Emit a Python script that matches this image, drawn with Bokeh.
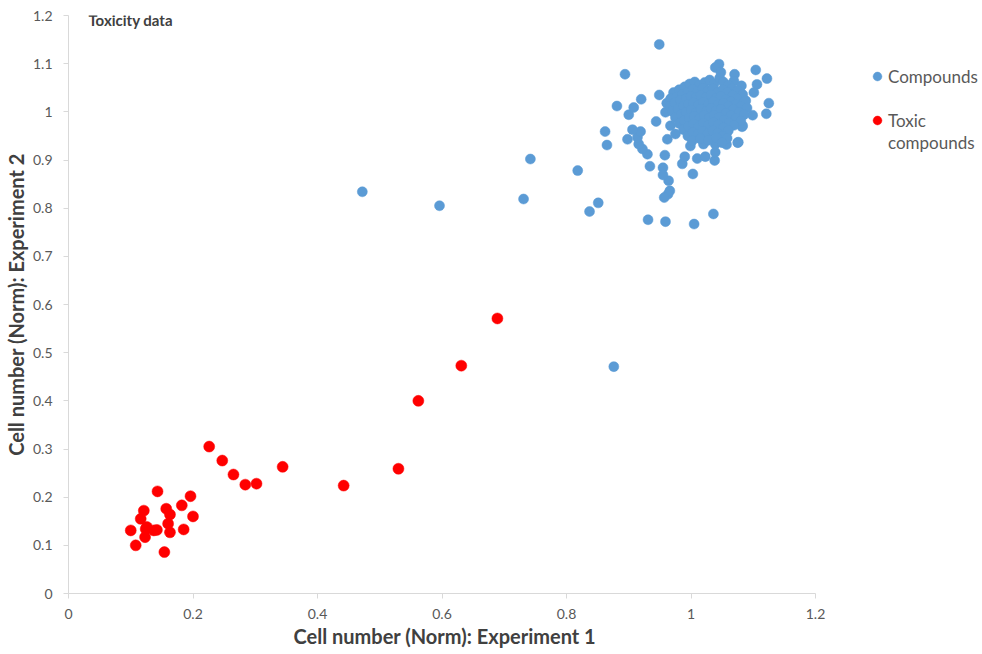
from bokeh.plotting import figure
from bokeh.models import FixedTicker, Legend, LegendItem, Label, Title, ColumnDataSource
from bokeh.embed import file_html
from bokeh.resources import INLINE

# ---- data ----
comp_x = [0.472, 0.596, 0.742, 0.731, 0.818, 0.851, 0.837, 0.876, 0.949, 0.894,
          1.104, 1.122, 1.125, 1.121, 1.099, 1.082, 1.076, 1.057, 1.038, 1.036,
          1.005, 0.959, 0.931, 0.963, 0.966, 0.957, 0.964, 0.955, 0.955, 0.934,
          0.958, 1.003, 0.986, 0.990, 1.010, 1.023, 1.039, 0.930, 0.922, 0.916,
          0.914, 0.919, 0.906, 0.898, 0.862, 0.865, 0.881, 0.900, 0.908, 0.920,
          0.944, 0.949, 0.962, 0.975, 0.961, 0.967, 0.959, 1.045, 1.039, 1.070,
          1.069, 1.081, 1.106, 1.101, 1.088, 1.077, 0.999, 1.020, 1.039, 1.075,
          1.083, 0.967,
          0.972, 0.981, 0.990, 0.998, 1.006, 1.013, 1.022, 1.030, 1.037, 1.046,
          1.048, 1.052, 1.060, 1.066, 1.075, 1.083,
          0.968, 0.977, 0.986, 0.995, 1.003, 1.011, 1.019, 1.027, 1.035, 1.043,
          1.051, 1.058, 1.067, 1.074, 1.086,
          0.966, 0.974, 0.983, 0.992, 1.000, 1.008, 1.016, 1.024, 1.032, 1.040,
          1.048, 1.056, 1.064, 1.072, 1.080, 1.090,
          0.970, 0.979, 0.988, 0.996, 1.004, 1.012, 1.020, 1.028, 1.036, 1.044,
          1.052, 1.060, 1.068, 1.077, 1.085,
          0.975, 0.984, 0.992, 1.000, 1.008, 1.016, 1.024, 1.032, 1.040, 1.048,
          1.056, 1.064, 1.072, 1.080,
          0.981, 0.989, 0.997, 1.005, 1.013, 1.021, 1.029, 1.037, 1.045, 1.053,
          1.061, 1.069,
          0.988, 0.996, 1.004, 1.012, 1.020, 1.028, 1.036, 1.044, 1.052, 1.060,
          0.995, 1.003, 1.011, 1.019, 1.027, 1.035, 1.043, 1.051, 1.058,
          1.002, 1.015, 1.028, 1.041, 1.050]
comp_y = [0.834, 0.805, 0.902, 0.819, 0.878, 0.811, 0.793, 0.471, 1.140, 1.078,
          1.087, 1.069, 1.018, 0.996, 0.993, 0.969, 0.937, 0.932, 0.899, 0.788,
          0.767, 0.772, 0.776, 0.829, 0.836, 0.822, 0.857, 0.884, 0.869, 0.887,
          0.910, 0.871, 0.892, 0.907, 0.903, 0.907, 0.916, 0.912, 0.923, 0.933,
          0.947, 0.959, 0.963, 0.943, 0.959, 0.931, 1.012, 0.994, 1.009, 1.026,
          0.980, 1.035, 0.943, 0.954, 1.018, 1.026, 0.999, 1.099, 1.092, 1.078,
          1.064, 1.054, 1.057, 1.040, 1.023, 1.030, 0.929, 0.933, 0.933, 0.936,
          0.971, 0.971,
          1.040, 1.046, 1.052, 1.058, 1.062, 1.055, 1.061, 1.066, 1.058, 1.070,
          1.082, 1.062, 1.055, 1.048, 1.044, 1.036,
          1.028, 1.031, 1.036, 1.041, 1.047, 1.043, 1.049, 1.044, 1.048, 1.041,
          1.046, 1.040, 1.034, 1.027, 1.021,
          1.012, 1.019, 1.024, 1.027, 1.032, 1.029, 1.034, 1.030, 1.035, 1.028,
          1.032, 1.025, 1.021, 1.015, 1.011, 1.008,
          1.001, 1.006, 1.012, 1.016, 1.019, 1.014, 1.020, 1.016, 1.021, 1.015,
          1.018, 1.011, 1.005, 0.999, 0.994,
          0.988, 0.994, 0.999, 1.004, 0.998, 1.006, 1.001, 1.007, 1.002, 1.005,
          0.997, 0.992, 0.986, 0.981,
          0.976, 0.982, 0.987, 0.991, 0.985, 0.992, 0.987, 0.993, 0.988, 0.983,
          0.977, 0.972,
          0.963, 0.970, 0.975, 0.969, 0.977, 0.972, 0.978, 0.973, 0.967, 0.961,
          0.950, 0.957, 0.953, 0.960, 0.955, 0.961, 0.956, 0.950, 0.945,
          0.940, 0.944, 0.941, 0.946, 0.936]

tox_x = [0.689, 0.631, 0.562, 0.530, 0.442, 0.344, 0.302, 0.284, 0.265, 0.247,
         0.226, 0.143, 0.196, 0.182, 0.200, 0.185, 0.157, 0.163, 0.160, 0.163,
         0.154, 0.121, 0.116, 0.124, 0.123, 0.100, 0.137, 0.108, 0.126, 0.142]
tox_y = [0.571, 0.473, 0.400, 0.259, 0.224, 0.263, 0.228, 0.226, 0.247, 0.276,
         0.305, 0.212, 0.202, 0.183, 0.160, 0.133, 0.176, 0.164, 0.145, 0.127,
         0.086, 0.172, 0.155, 0.134, 0.117, 0.131, 0.131, 0.100, 0.138, 0.132]

x_ticks = [0, 0.2, 0.4, 0.6, 0.8, 1.0, 1.2]
x_tick_labels = ["0", "0.2", "0.4", "0.6", "0.8", "1", "1.2"]
y_ticks = [0, 0.1, 0.2, 0.3, 0.4, 0.5, 0.6, 0.7, 0.8, 0.9, 1.0, 1.1, 1.2]
y_tick_labels = ["0", "0.1", "0.2", "0.3", "0.4", "0.5", "0.6", "0.7", "0.8",
                 "0.9", "1", "1.1", "1.2"]

FONT = "Lato"
TXT = "#595959"
DARK = "#404040"

# frame spans 68..978 px; axis 0..1.2 covers 68..815 px, the rest holds the legend
X_END = 1.2 * 910 / 747

p = figure(width=980, height=652, x_range=(0, X_END), y_range=(0, 1.2),
           output_backend="svg", toolbar_location=None,
           min_border_left=68, min_border_right=2, min_border_top=15,
           min_border_bottom=59)
p.outline_line_color = None
p.xgrid.visible = False
p.ygrid.visible = False
p.background_fill_color = "white"
p.border_fill_color = "white"

for ax, ticks, labels in ((p.xaxis[0], x_ticks, x_tick_labels), (p.yaxis[0], y_ticks, y_tick_labels)):
    ax.ticker = FixedTicker(ticks=ticks)
    ax.major_label_overrides = {t: l for t, l in zip(ticks, labels)}
    ax.bounds = (0, 1.2)
    ax.axis_line_color = "#d9d9d9"
    ax.major_tick_line_color = "#d9d9d9"
    ax.minor_tick_line_color = None
    ax.major_tick_out = 5
    ax.major_tick_in = 0
    ax.major_label_text_font = FONT
    ax.major_label_text_font_size = "14px"
    ax.major_label_text_color = TXT
    ax.axis_label_text_font = FONT
    ax.axis_label_text_font_size = "20px"
    ax.axis_label_text_font_style = "bold"
    ax.axis_label_text_color = DARK

p.yaxis.axis_label = "Cell number (Norm): Experiment 2"
p.xaxis.major_label_standoff = 10
p.yaxis.major_label_standoff = 11
p.yaxis.axis_label_standoff = 2

# x-axis title: centred under the 0..1.2 part of the axis
x_title = Title(text="Cell number (Norm): Experiment 1", align="left", offset=225,
                text_font=FONT, text_font_size="20px", text_font_style="bold",
                text_color=DARK, standoff=0)
p.add_layout(x_title, "below")

src_c = ColumnDataSource(dict(x=comp_x, y=comp_y))
src_t = ColumnDataSource(dict(x=tox_x, y=tox_y))
r_c = p.scatter("x", "y", source=src_c, size=10, fill_color="#5B9BD5",
                line_color="#5B9BD5", line_width=0.5)
r_t = p.scatter("x", "y", source=src_t, size=11, fill_color="#FF0000",
                line_color="#FF0000", line_width=0.5)
# invisible renderer used only for legend rows without a marker
r_blank = p.scatter(x=[], y=[], fill_alpha=0, line_alpha=0)

legend = Legend(items=[LegendItem(label="Compounds", renderers=[r_c]),
                       LegendItem(label=" ", renderers=[r_blank]),
                       LegendItem(label="Toxic", renderers=[r_t]),
                       LegendItem(label="compounds", renderers=[r_blank])],
                location=(798, 440), orientation="vertical")
legend.border_line_color = None
legend.background_fill_alpha = 0
legend.padding = 0
legend.margin = 0
legend.glyph_width = 22
legend.glyph_height = 22
legend.label_height = 22
legend.label_standoff = 0
legend.spacing = 0
legend.label_text_font = FONT
legend.label_text_font_size = "17px"
legend.label_text_color = TXT
p.add_layout(legend, "center")

title = Label(x=0.032, y=1.19, text="Toxicity data", text_font=FONT,
              text_font_size="15px", text_font_style="bold", text_color=DARK,
              text_baseline="middle", text_align="left")
p.add_layout(title)

open("out.html", "w").write(file_html(p, INLINE))
